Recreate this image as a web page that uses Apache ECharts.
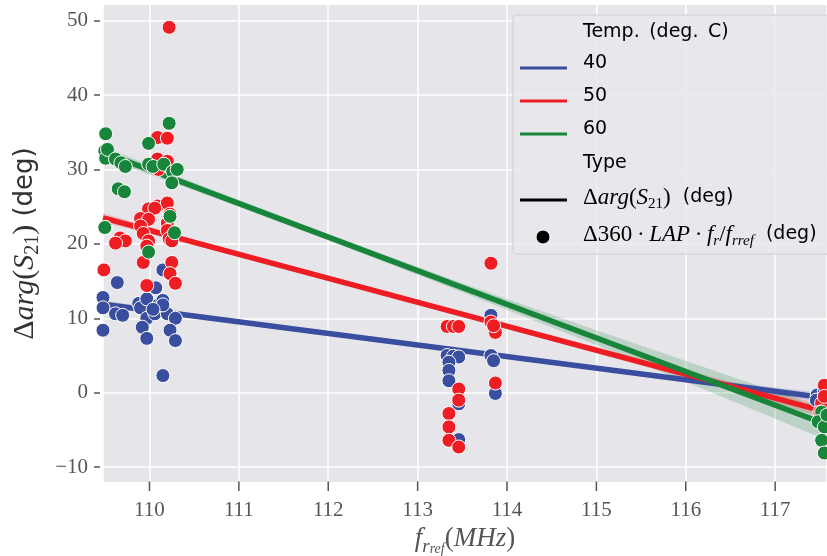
<!DOCTYPE html>
<html><head><meta charset="utf-8">
<script src="https://cdn.jsdelivr.net/npm/echarts@6/dist/echarts.min.js"></script>
<style>html,body{margin:0;padding:0;background:#fff}#c{width:827px;height:556px}</style>
</head><body><div id="c"></div><script>
// ---- data ----
const xTicks = [110, 111, 112, 113, 114, 115, 116, 117];
const yTicks = [-10, 0, 10, 20, 30, 40, 50];
const xRange = [109.48, 117.58];
const yRange = [-12, 52.1];
const temps = ['40', '50', '60'];

// regression lines (value at left and right edge)
const fitX = [109.48, 117.58];
const fit40 = [11.9, -0.7];
const fit50 = [23.5, -2.6];
const fit60 = [32.3, -4.3];

// confidence bands
const bandX = [109.48, 110.5, 112, 113.5, 115, 116.5, 117.58];
const band40Lo = [11.4, 9.96, 7.73, 5.39, 3.01, 0.52, -1.3];
const band40Hi = [12.4, 10.66, 8.23, 5.89, 3.61, 1.42, -0.1];
const band50Lo = [22.9, 19.8, 15.1, 10.25, 5.3, 0.3, -3.5];
const band50Hi = [24.1, 20.6, 15.7, 10.85, 6.1, 1.5, -1.7];
const band60Lo = [31.5, 27.2, 20.5, 13.5, 6.4, -1.0, -6.4];
const band60Hi = [33.1, 28.2, 21.3, 14.7, 8.4, 2.2, -2.2];

// scatter points
const pts40 = [
  [109.64, 14.8], [109.48, 12.8], [109.48, 11.4], [109.48, 8.4], [109.62, 10.6], [109.70, 10.4],
  [109.88, 12.0], [109.90, 11.4], [109.97, 12.6], [109.97, 10.0], [109.92, 8.8], [109.97, 7.3],
  [110.06, 10.6], [110.07, 14.1], [110.10, 11.8], [110.15, 12.4], [110.15, 16.5], [110.20, 10.6],
  [110.15, 11.8], [110.29, 10.0], [110.23, 8.4], [110.29, 7.0], [110.15, 2.3], [110.04, 11.2],
  [113.33, 5.0], [113.40, 4.9], [113.46, 4.8], [113.35, 4.1], [113.35, 3.0], [113.35, 1.6],
  [113.46, -1.5], [113.46, -6.3], [113.82, 5.0], [113.85, 4.3], [113.82, 10.4], [113.87, -0.1],
  [117.47, -0.3], [117.46, -1.0], [117.55, 0.2]
];
const pts50 = [
  [110.22, 49.1], [110.09, 34.3], [110.20, 34.2], [110.09, 31.4], [110.20, 31.1], [110.10, 30.0],
  [110.09, 25.1], [110.20, 25.5], [109.99, 24.7], [110.06, 24.8], [109.90, 23.4], [109.99, 23.3],
  [110.23, 24.0], [109.90, 22.4], [109.93, 21.4], [110.20, 22.8], [110.20, 21.8], [110.22, 20.7],
  [110.25, 20.4], [109.99, 20.4], [109.97, 19.7], [109.51, 22.2], [109.67, 20.8], [109.73, 20.4],
  [109.62, 20.1], [109.49, 16.5], [109.93, 17.5], [110.25, 17.5], [110.23, 16.0], [110.29, 14.7],
  [109.97, 14.4],
  [113.82, 17.4], [113.33, 8.9], [113.40, 8.9], [113.46, 8.9], [113.82, 9.5], [113.87, 8.1],
  [113.85, 9.0], [113.46, 0.5], [113.46, -1.0], [113.87, 1.3], [113.35, -2.8], [113.35, -4.6],
  [113.35, -6.4], [113.46, -7.3],
  [117.55, 1.0], [117.52, -1.4], [117.50, -2.6], [117.55, -0.5]
];
const pts60 = [
  [109.51, 34.8], [109.50, 32.5], [109.51, 31.5], [109.53, 32.7], [109.62, 31.4], [109.68, 30.9],
  [109.73, 30.4], [109.65, 27.4], [109.72, 27.0], [109.50, 22.2], [109.99, 33.5], [109.99, 30.7],
  [110.04, 30.4], [110.16, 30.7], [110.22, 36.2], [110.26, 29.7], [110.31, 30.0], [110.25, 28.2],
  [110.23, 23.7], [110.28, 21.5], [109.99, 18.9],
  [117.52, -2.6], [117.48, -3.9], [117.55, -4.6], [117.52, -6.4], [117.55, -8.1], [117.58, -3.0]
];

// ---- styles ----
const colors = ['#3a4ea0', '#ee1d23', '#17853a'];
const bandColors = ['rgba(58,78,160,0.2)', 'rgba(238,29,35,0.2)', 'rgba(23,133,58,0.2)'];
const serif = 'Liberation Serif';
const sans = 'DejaVu Sans';

function bandSeries(lo, hi, color) {
  return {
    type: 'custom', silent: true, z: 1,
    data: [[bandX[0], lo[0]]],
    renderItem: function (params, api) {
      const pts = [];
      for (let i = 0; i < bandX.length; i++) pts.push(api.coord([bandX[i], hi[i]]));
      for (let i = bandX.length - 1; i >= 0; i--) pts.push(api.coord([bandX[i], lo[i]]));
      return { type: 'polygon', shape: { points: pts }, style: { fill: color } };
    }
  };
}
function lineSeries(fit, color) {
  return {
    type: 'line', z: 2, symbol: 'none', silent: true,
    data: fitX.map((x, i) => [x, fit[i]]),
    lineStyle: { color: color, width: 5.5 }
  };
}
function scatterSeries(pts, color) {
  return {
    type: 'scatter', z: 3, symbol: 'circle', symbolSize: 14,
    data: pts,
    itemStyle: { color: color, borderColor: '#ffffff', borderWidth: 1, opacity: 1 }
  };
}
// x-axis tick marks placed through the axis scale
const xTickSeries = {
  type: 'custom', clip: false, z: 5,
  data: xTicks.map(v => [v, yRange[0]]),
  renderItem: function (params, api) {
    const p = api.coord([api.value(0), api.value(1)]);
    return { type: 'line', shape: { x1: p[0], y1: p[1] - 0.5, x2: p[0], y2: p[1] + 9 },
             style: { stroke: '#555555', lineWidth: 1.5 } };
  }
};

const mathRich = {
  m: { fontFamily: serif, fontSize: 30, color: '#333', lineHeight: 36, verticalAlign: 'middle' },
  i: { fontFamily: serif, fontStyle: 'italic', fontSize: 30, color: '#333', lineHeight: 36, verticalAlign: 'middle' },
  s: { fontFamily: serif, fontSize: 20, color: '#333', lineHeight: 17, verticalAlign: 'bottom' },
  t: { fontFamily: sans, fontSize: 26, color: '#333', lineHeight: 36, verticalAlign: 'middle' }
};
const xRich = {
  i: { fontFamily: serif, fontStyle: 'italic', fontSize: 27, color: '#555', lineHeight: 34, verticalAlign: 'middle' },
  m: { fontFamily: serif, fontSize: 27, color: '#555', lineHeight: 34, verticalAlign: 'middle' },
  s1: { fontFamily: serif, fontStyle: 'italic', fontSize: 19, color: '#555', lineHeight: 22, verticalAlign: 'bottom' },
  s2: { fontFamily: serif, fontStyle: 'italic', fontSize: 14, color: '#555', lineHeight: 10, verticalAlign: 'bottom' }
};
const legRich = {
  t: { fontFamily: sans, fontSize: 19, color: '#222', lineHeight: 28, verticalAlign: 'middle' },
  m: { fontFamily: serif, fontSize: 23, color: '#222', lineHeight: 28, verticalAlign: 'middle' },
  i: { fontFamily: serif, fontStyle: 'italic', fontSize: 23, color: '#222', lineHeight: 28, verticalAlign: 'middle' },
  s: { fontFamily: serif, fontSize: 15, color: '#222', lineHeight: 13, verticalAlign: 'bottom' },
  si: { fontFamily: serif, fontStyle: 'italic', fontSize: 15, color: '#222', lineHeight: 13, verticalAlign: 'bottom' }
};

function legendText(x, y, text) {
  return { type: 'text', left: x, top: y - 14, z: 101, style: { text: text, rich: legRich } };
}
function legendLine(y, color) {
  return { type: 'line', z: 101, shape: { x1: 520, y1: y, x2: 567, y2: y }, style: { stroke: color, lineWidth: 3 } };
}

const chart = echarts.init(document.getElementById('c'), null, { renderer: 'canvas' });
chart.setOption({
  animation: false,
  backgroundColor: '#ffffff',
  grid: { left: 103, right: 0, top: 5, bottom: 74, show: true, backgroundColor: '#e6e5e9', borderWidth: 0,
          containLabel: false, outerBoundsMode: 'none' },
  xAxis: {
    type: 'value', position: 'bottom', min: xRange[0], max: xRange[1], minInterval: 1, maxInterval: 1, offset: 2,
    axisLine: { show: false, onZero: false },
    axisTick: { show: false },
    axisLabel: { customValues: xTicks, fontFamily: serif, fontSize: 21, color: '#555', margin: 16 },
    splitLine: { show: true, lineStyle: { color: '#ffffff', width: 1.5 } },
    name: '{i|f}{s1|r}{s2|ref}{m|(}{i|MHz}{m|)}',
    nameLocation: 'middle', nameGap: 32,
    nameTextStyle: { rich: xRich }
  },
  yAxis: {
    type: 'value', position: 'left', min: yRange[0], max: yRange[1], minInterval: 10, maxInterval: 10, offset: 3,
    axisLine: { show: false, onZero: false },
    axisTick: { show: true, inside: false, length: 6, customValues: yTicks, lineStyle: { color: '#555555', width: 1.5 } },
    axisLabel: {
      customValues: yTicks, fontFamily: serif, fontSize: 21, color: '#555', margin: 12,
      formatter: v => (v < 0 ? '\u2212' + Math.abs(v) : String(v))
    },
    splitLine: { show: true, lineStyle: { color: '#ffffff', width: 1.5 } },
    name: '{m|\u0394}{i|arg}{m|(}{i|S}{s|21}{m|)}{t| (deg)}',
    nameLocation: 'middle', nameGap: 57, nameRotate: 90,
    nameTextStyle: { rich: mathRich }
  },
  series: [
    bandSeries(band40Lo, band40Hi, bandColors[0]),
    bandSeries(band50Lo, band50Hi, bandColors[1]),
    bandSeries(band60Lo, band60Hi, bandColors[2]),
    lineSeries(fit40, colors[0]),
    lineSeries(fit50, colors[1]),
    lineSeries(fit60, colors[2]),
    scatterSeries(pts40, colors[0]),
    scatterSeries(pts50, colors[1]),
    scatterSeries(pts60, colors[2]),
    xTickSeries
  ],
  graphic: [
    { type: 'rect', z: 100, shape: { x: 513, y: 15, width: 330, height: 239, r: 4 },
      style: { fill: 'rgba(232,231,235,0.82)', stroke: '#cfcfcf', lineWidth: 1 } },
    legendText(583, 37, '{t|Temp.\u2002(deg.\u2002C)}'),
    legendLine(68, colors[0]), legendText(583, 68, '{t|' + temps[0] + '}'),
    legendLine(101, colors[1]), legendText(583, 101, '{t|' + temps[1] + '}'),
    legendLine(134, colors[2]), legendText(583, 134, '{t|' + temps[2] + '}'),
    legendText(583, 168, '{t|Type}'),
    legendLine(200, '#000000'),
    legendText(583, 200, '{m|\u0394}{i|arg}{m|(}{i|S}{s|21}{m|)}{t|  (deg)}'),
    { type: 'circle', z: 101, shape: { cx: 543, cy: 237, r: 7 }, style: { fill: '#000000', stroke: '#ffffff', lineWidth: 1 } },
    legendText(583, 237, '{m|\u0394360\u2009\u00b7\u2009}{i|LAP}{m|\u2009\u00b7\u2009}{i|f}{si|r}{m|/}{i|f}{si|rref}{t|  (deg)}')
  ]
});
</script></body></html>
